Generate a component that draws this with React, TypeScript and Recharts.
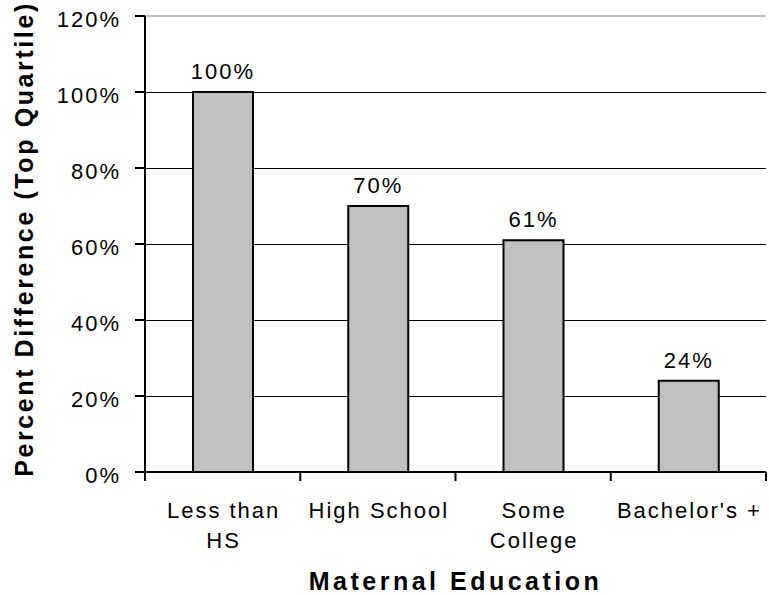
import React from 'react';
import { BarChart, Bar, XAxis, YAxis, CartesianGrid, ReferenceLine, LabelList, Label } from 'recharts';

const categories = ['Less than HS', 'High School', 'Some College', "Bachelor's +"];
const tickLines = [['Less than', 'HS'], ['High School'], ['Some', 'College'], ["Bachelor's +"]];
const values = [100, 70, 61, 24];
const yTicks = [0, 20, 40, 60, 80, 100, 120];

const FONT = '"Liberation Sans", Arial, sans-serif';

const data = categories.map((name, i) => ({ name, value: values[i] }));

// category labels plus the tick marks on the band edges
function CategoryTick(props: any) {
  const { x, y, index, payload } = props;
  const lines = tickLines[index] || [payload.value];
  const half = payload.offset || 0;
  const last = index === categories.length - 1;
  return (
    <g>
      <line x1={x - half} x2={x - half} y1={y} y2={y + 9} stroke="#000" strokeWidth={2} />
      {last && <line x1={x + half} x2={x + half} y1={y} y2={y + 9} stroke="#000" strokeWidth={2} />}
      <text x={x} y={y} textAnchor="middle" fontFamily={FONT} fontSize={22} letterSpacing={2} fill="#000">
        {lines.map((l: string, i: number) => (
          <tspan key={i} x={x + 1} dy={i === 0 ? 46 : 30}>
            {l}
          </tspan>
        ))}
      </text>
    </g>
  );
}

function PercentTick(props: any) {
  const { x, y, payload } = props;
  return (
    <text x={x} y={y} dy={11} textAnchor="end" fontFamily={FONT} fontSize={22} letterSpacing={2} fill="#000">
      {payload.value}%
    </text>
  );
}

export default function App() {
  return (
    <div style={{ position: 'absolute', left: 0, top: 0, background: '#fff' }}>
      <style>{`.recharts-cartesian-grid line { shape-rendering: crispEdges; }`}</style>
      <BarChart width={769} height={595} data={data} margin={{ top: 16, right: 3, bottom: 0, left: 0 }}>
        <CartesianGrid vertical={false} stroke="#000" strokeWidth={1} />
        <XAxis
          xAxisId="cat"
          dataKey="name"
          height={123}
          tickLine={false}
          tickSize={0}
          tickMargin={0}
          axisLine={{ stroke: '#000', strokeWidth: 2 }}
          tick={<CategoryTick />}
          interval={0}
        >
          <Label
            value="Maternal Education"
            position="insideBottom"
            offset={5}
            fontFamily={FONT}
            fontSize={25}
            fontWeight="bold"
            letterSpacing={3.5}
            fill="#000"
          />
        </XAxis>
        <YAxis
          domain={[0, 120]}
          ticks={yTicks}
          width={145}
          tickSize={10}
          tickMargin={14}
          axisLine={{ stroke: '#000', strokeWidth: 2 }}
          tickLine={{ stroke: '#000', strokeWidth: 2 }}
          tick={<PercentTick />}
        >
          <Label
            content={(p: any) => {
              const vb = p.viewBox || {};
              const cx = (vb.x || 0) + 33;
              const cy = (vb.y || 0) + (vb.height || 0) / 2 - 5;
              return (
                <text
                  x={cx}
                  y={cy}
                  transform={`rotate(-90, ${cx}, ${cy})`}
                  textAnchor="middle"
                  fontFamily={FONT}
                  fontSize={25}
                  fontWeight="bold"
                  letterSpacing={2.6}
                  fill="#000"
                >
                  Percent Difference (Top Quartile)
                </text>
              );
            }}
          />
        </YAxis>
        <YAxis
          yAxisId="r"
          orientation="right"
          domain={[0, 120]}
          width={0}
          tick={false}
          tickLine={false}
          axisLine={{ stroke: '#c0c0c0', strokeWidth: 2 }}
        />
        <ReferenceLine xAxisId="cat" y={120} stroke="#c0c0c0" strokeWidth={2} />
        <Bar
          xAxisId="cat"
          dataKey="value"
          fill="#c0c0c0"
          stroke="#000"
          strokeWidth={2}
          barSize={60}
          isAnimationActive={false}
        >
          <LabelList
            dataKey="value"
            position="top"
            offset={13}
            formatter={(v: any) => `${v}%`}
            fontFamily={FONT}
            fontSize={22}
            letterSpacing={2}
            fill="#000"
          />
        </Bar>
      </BarChart>
    </div>
  );
}
